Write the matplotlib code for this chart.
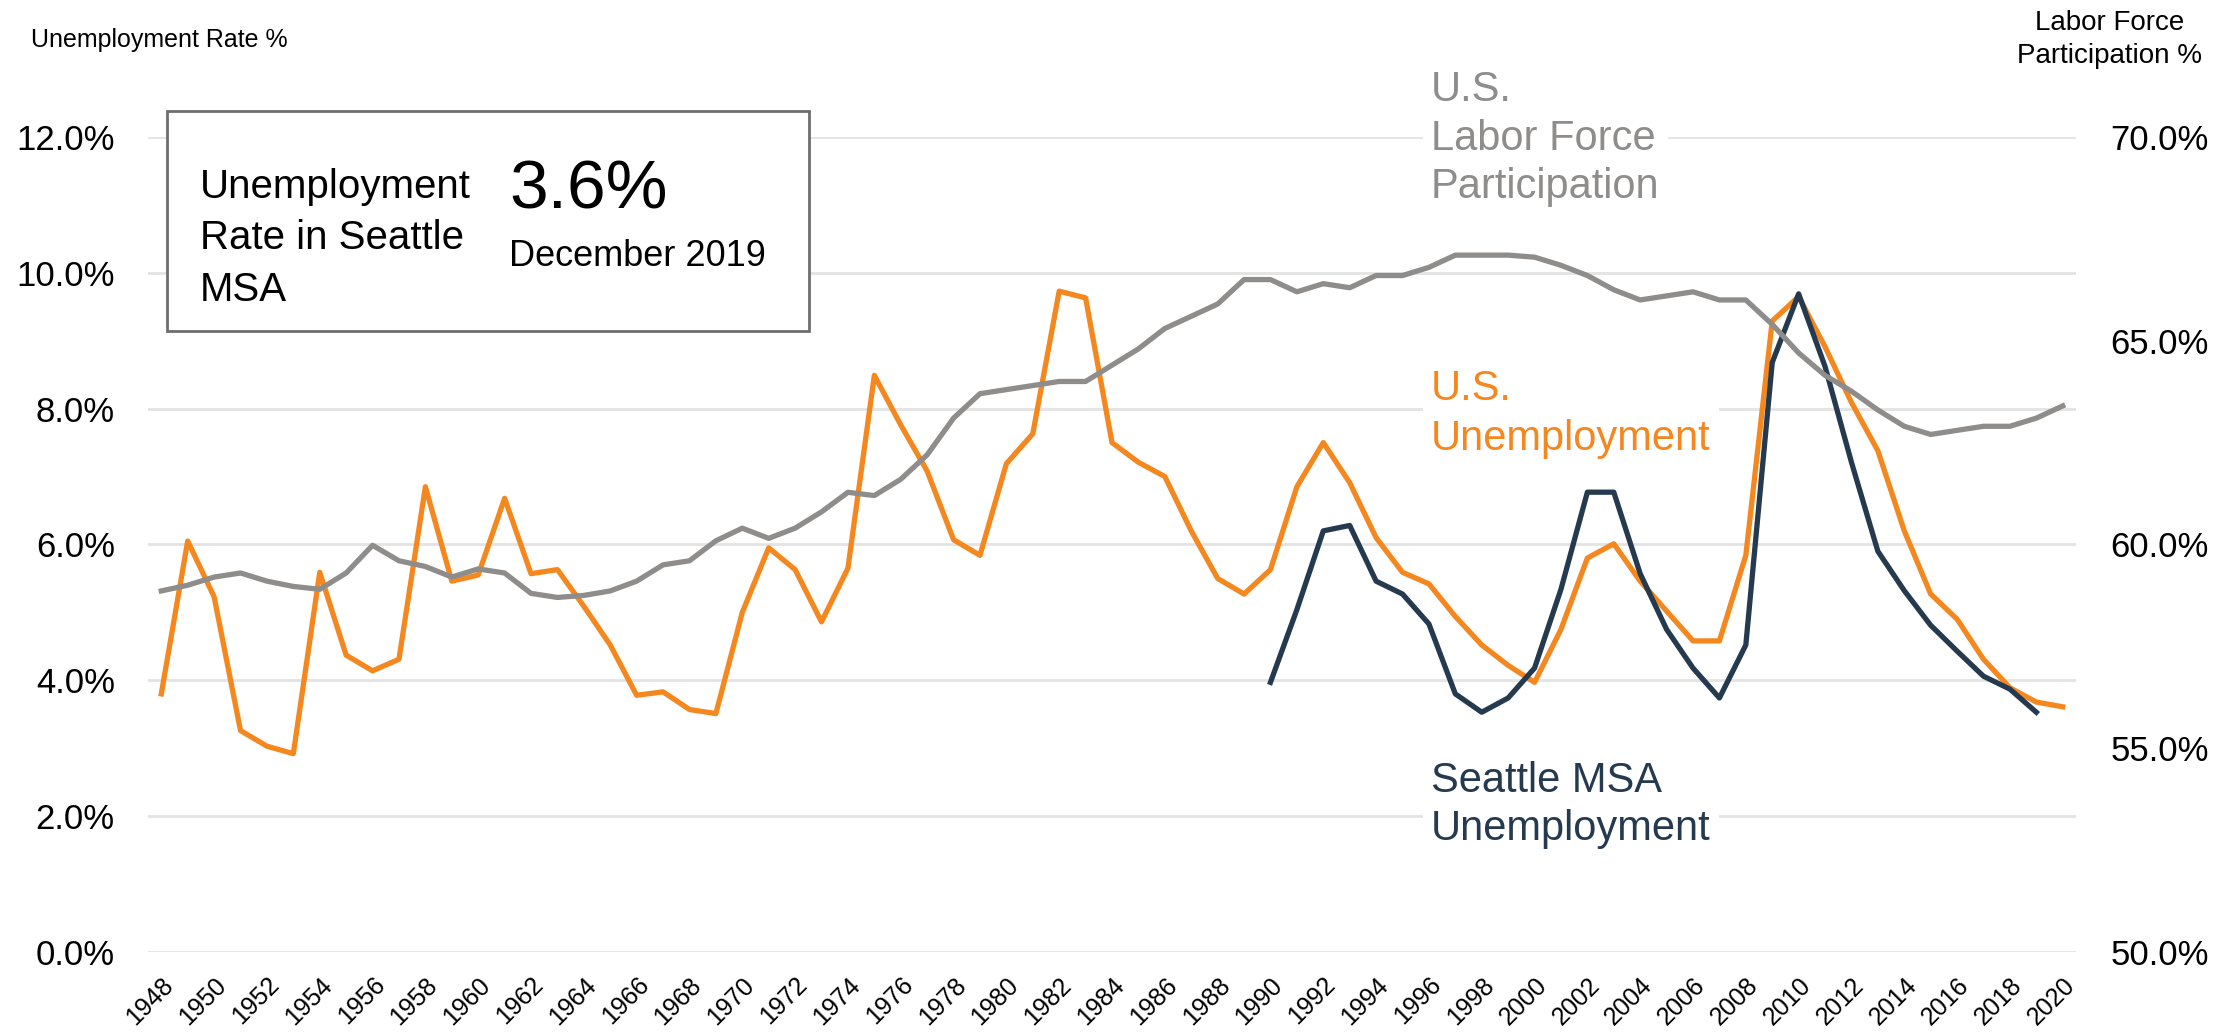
import matplotlib
matplotlib.use("Agg")
import matplotlib.pyplot as plt
from matplotlib.patches import Rectangle
from matplotlib.ticker import FuncFormatter
from matplotlib.transforms import ScaledTranslation

years = list(range(1948, 2021))

us_unemployment = [
    3.8, 6.05, 5.23, 3.26, 3.03, 2.92, 5.59, 4.37, 4.14, 4.31,
    6.85, 5.46, 5.55, 6.68, 5.57, 5.63, 5.09, 4.52, 3.78, 3.83,
    3.57, 3.51, 5.0, 5.95, 5.63, 4.86, 5.65, 8.49, 7.76, 7.08,
    6.07, 5.84, 7.19, 7.63, 9.73, 9.63, 7.5, 7.21, 7.0, 6.2,
    5.5, 5.27, 5.63, 6.85, 7.5, 6.91, 6.1, 5.59, 5.42, 4.94,
    4.52, 4.22, 3.97, 4.75, 5.8, 6.01, 5.46, 5.02, 4.58, 4.58,
    5.84, 9.29, 9.65, 8.91, 8.09, 7.38, 6.2, 5.27, 4.9, 4.31,
    3.89, 3.68, 3.61,
]

labor_force_participation = [
    58.86, 59.0, 59.2, 59.3, 59.1, 58.97, 58.9, 59.3, 59.98, 59.6,
    59.46, 59.2, 59.4, 59.3, 58.8, 58.7, 58.75, 58.86, 59.1, 59.5,
    59.6, 60.09, 60.4, 60.15, 60.4, 60.8, 61.28, 61.2, 61.6, 62.2,
    63.1, 63.7, 63.8, 63.9, 64.0, 64.0, 64.4, 64.8, 65.3, 65.6,
    65.9, 66.5, 66.5, 66.2, 66.4, 66.3, 66.6, 66.6, 66.8, 67.1,
    67.1, 67.1, 67.05, 66.85, 66.6, 66.25, 66.0, 66.1, 66.2, 66.0,
    66.0, 65.4, 64.7, 64.15, 63.76, 63.3, 62.9, 62.7, 62.8, 62.9,
    62.9, 63.1, 63.4,
]

seattle_years = list(range(1990, 2020))
seattle_unemployment = [
    3.97, 5.04, 6.2, 6.28, 5.46, 5.27, 4.83, 3.8, 3.53, 3.74,
    4.18, 5.34, 6.77, 6.77, 5.57, 4.75, 4.18, 3.74, 4.52, 8.68,
    9.69, 8.62, 7.21, 5.9, 5.32, 4.81, 4.43, 4.06, 3.87, 3.53,
]

left_ticks = [0, 2, 4, 6, 8, 10, 12]
right_ticks = [50, 55, 60, 65, 70]
year_ticks = list(range(1948, 2021, 2))

ORANGE = "#F5871F"
NAVY = "#263A4F"
GRAY = "#8E8D8B"
GRID = "#E3E3E3"

plt.rcParams["font.family"] = "Liberation Sans"

fig = plt.figure(figsize=(22.37, 10.36), dpi=100)
ax = fig.add_axes([0.0662, 0.0811, 0.8618, 0.7867])
ax2 = ax.twinx()

ax.plot(years, us_unemployment, color=ORANGE, lw=3.8)
ax.plot(seattle_years, seattle_unemployment, color=NAVY, lw=3.8)
ax2.plot(years, labor_force_participation, color=GRAY, lw=3.8)

ax.set_xlim(1947.5, 2020.5)
ax.set_ylim(0, 12)
ax2.set_ylim(50, 70)

pct = FuncFormatter(lambda v, _: f"{v:.1f}%")
ax.set_yticks(left_ticks)
ax.yaxis.set_major_formatter(pct)
ax2.set_yticks(right_ticks)
ax2.yaxis.set_major_formatter(pct)

ax.set_xticks(year_ticks)
ax.set_xticklabels([str(y) for y in year_ticks], rotation=45, ha="right",
                   va="top", rotation_mode="anchor", fontsize=18)
shift = ScaledTranslation(6 / 100, 0, fig.dpi_scale_trans)
for lbl in ax.get_xticklabels():
    lbl.set_transform(lbl.get_transform() + shift)

ax.grid(True, axis="y", color=GRID, lw=2)
ax.set_axisbelow(True)
ax.tick_params(axis="y", length=0, labelsize=25, pad=24)
ax.tick_params(axis="x", length=0, pad=15)
ax2.tick_params(axis="y", length=0, labelsize=25, pad=25)
for a in (ax, ax2):
    for s in a.spines.values():
        s.set_visible(False)

# axis titles
fig.text(0.0139, 0.9614, "Unemployment Rate %", fontsize=18, va="center", ha="left")
fig.text(0.943, 0.962, "Labor Force\nParticipation %", fontsize=20, va="center",
         ha="center", multialignment="center", linespacing=1.35)

# callout box
fig.add_artist(Rectangle((0.0747, 0.6805), 0.287, 0.2124, transform=fig.transFigure,
                         facecolor="white", edgecolor="#6E6E6E", lw=2))
fig.text(0.0894, 0.770, "Unemployment\nRate in Seattle\nMSA", fontsize=29,
         va="center", ha="left", linespacing=1.45)
fig.text(0.2275, 0.8166, "3.6%", fontsize=50, va="center", ha="left")
fig.text(0.2275, 0.752, "December 2019", fontsize=26, va="center", ha="left")

# series labels
box = dict(facecolor="white", edgecolor="none", pad=6)
fig.text(0.6397, 0.8660, "U.S.\nLabor Force\nParticipation", color=GRAY, fontsize=30,
         va="center", ha="left", linespacing=1.27, bbox=box)
fig.text(0.6397, 0.6003, "U.S.\nUnemployment", color=ORANGE, fontsize=30,
         va="center", ha="left", linespacing=1.32, bbox=box)
fig.text(0.6397, 0.2230, "Seattle MSA\nUnemployment", color=NAVY, fontsize=30,
         va="center", ha="left", linespacing=1.27, bbox=box)

fig.savefig("out.png", dpi=100)
